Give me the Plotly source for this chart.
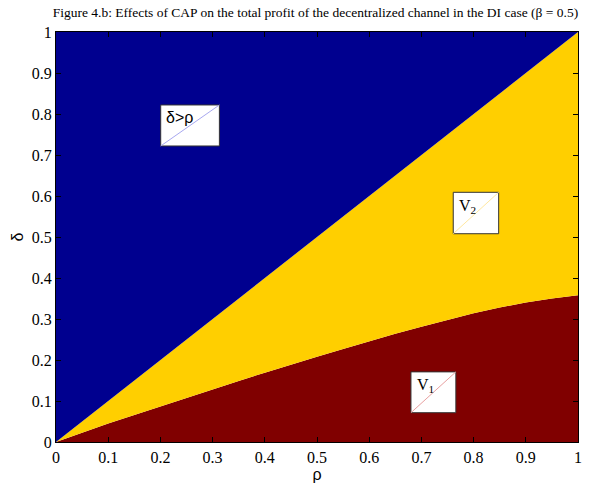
import plotly.graph_objects as go

# Boundary between the V1 and V2 regions (delta as a function of rho)
rho = [0.0, 0.05, 0.1, 0.15, 0.2, 0.25, 0.3, 0.35, 0.4, 0.45, 0.5,
       0.55, 0.6, 0.65, 0.7, 0.75, 0.8, 0.85, 0.9, 0.95, 1.0]
delta_v1 = [0.0, 0.023, 0.045, 0.066, 0.087, 0.108, 0.129, 0.149, 0.169, 0.189, 0.208,
            0.227, 0.246, 0.264, 0.281, 0.298, 0.314, 0.328, 0.340, 0.350, 0.358]

# Diagonal delta = rho separating V2 from the delta > rho region
diag_x = [0.0, 1.0]
diag_y = [0.0, 1.0]
top_x = [0.0, 1.0]
top_y = [1.0, 1.0]

tick_vals = [0, 0.1, 0.2, 0.3, 0.4, 0.5, 0.6, 0.7, 0.8, 0.9, 1]
tick_text = ["0", "0.1", "0.2", "0.3", "0.4", "0.5", "0.6", "0.7", "0.8", "0.9", "1"]

RED = "#800000"
YELLOW = "#FFCF00"
BLUE = "#00008F"

fig = go.Figure()
fig.add_trace(go.Scatter(x=rho, y=delta_v1, mode="lines", line=dict(width=0, color=RED),
                         fill="tozeroy", fillcolor=RED, hoverinfo="skip"))
fig.add_trace(go.Scatter(x=diag_x, y=diag_y, mode="lines", line=dict(width=0, color=YELLOW),
                         fill="tonexty", fillcolor=YELLOW, hoverinfo="skip"))
fig.add_trace(go.Scatter(x=top_x, y=top_y, mode="lines", line=dict(width=0, color=BLUE),
                         fill="tonexty", fillcolor=BLUE, hoverinfo="skip"))

# Region label boxes: (x0, x1, y0, y1, diagonal colour, label, font)
boxes = [
    (0.2006, 0.313, 0.722, 0.822, "#a8a8f0", "δ>ρ", "Liberation Sans"),
    (0.761, 0.848, 0.508, 0.609, "#ffe8a0", "V<sub>2</sub>", "Liberation Serif"),
    (0.680, 0.766, 0.0715, 0.171, "#e8a0a0", "V<sub>1</sub>", "Liberation Serif"),
]
for x0, x1, y0, y1, dcol, label, fam in boxes:
    fig.add_shape(type="rect", x0=x0, x1=x1, y0=y0, y1=y1, xref="x", yref="y",
                  fillcolor="white", line=dict(color="#333333", width=1), layer="above")
    fig.add_shape(type="line", x0=x0, x1=x1, y0=y0, y1=y1, xref="x", yref="y",
                  line=dict(color=dcol, width=1), layer="above")
    fig.add_annotation(x=x0 + 0.007, y=y1 - 0.006, xref="x", yref="y", text=label,
                       showarrow=False, xanchor="left", yanchor="top",
                       font=dict(family=fam, size=16, color="black"))

axis_common = dict(
    range=[0, 1], tickvals=tick_vals, ticktext=tick_text,
    ticks="inside", ticklen=5, tickcolor="black", tickwidth=1,
    showline=True, linecolor="black", linewidth=1, mirror="ticks",
    showgrid=False, zeroline=False, automargin=False,
    tickfont=dict(family="Liberation Serif", size=16, color="black"),
)

fig.update_layout(
    width=593, height=487,
    margin=dict(l=56, r=15, t=32, b=45),
    paper_bgcolor="white", plot_bgcolor="white",
    showlegend=False,
    title=dict(
        text="Figure 4.b: Effects of CAP on the total profit of the decentralized channel in the DI case (β = 0.5)",
        x=0.532, xanchor="center", y=1 - 12 / 487, yanchor="middle", yref="container",
        font=dict(family="Liberation Serif", size=13.5, color="black"),
    ),
    xaxis=dict(axis_common, ticklabelstandoff=1, title=dict(text="ρ", standoff=0,
               font=dict(family="Liberation Sans", size=16, color="black"))),
    yaxis=dict(axis_common, title=dict(text="δ", standoff=4,
               font=dict(family="Liberation Sans", size=16, color="black"))),
)

fig.write_html("out.html")
